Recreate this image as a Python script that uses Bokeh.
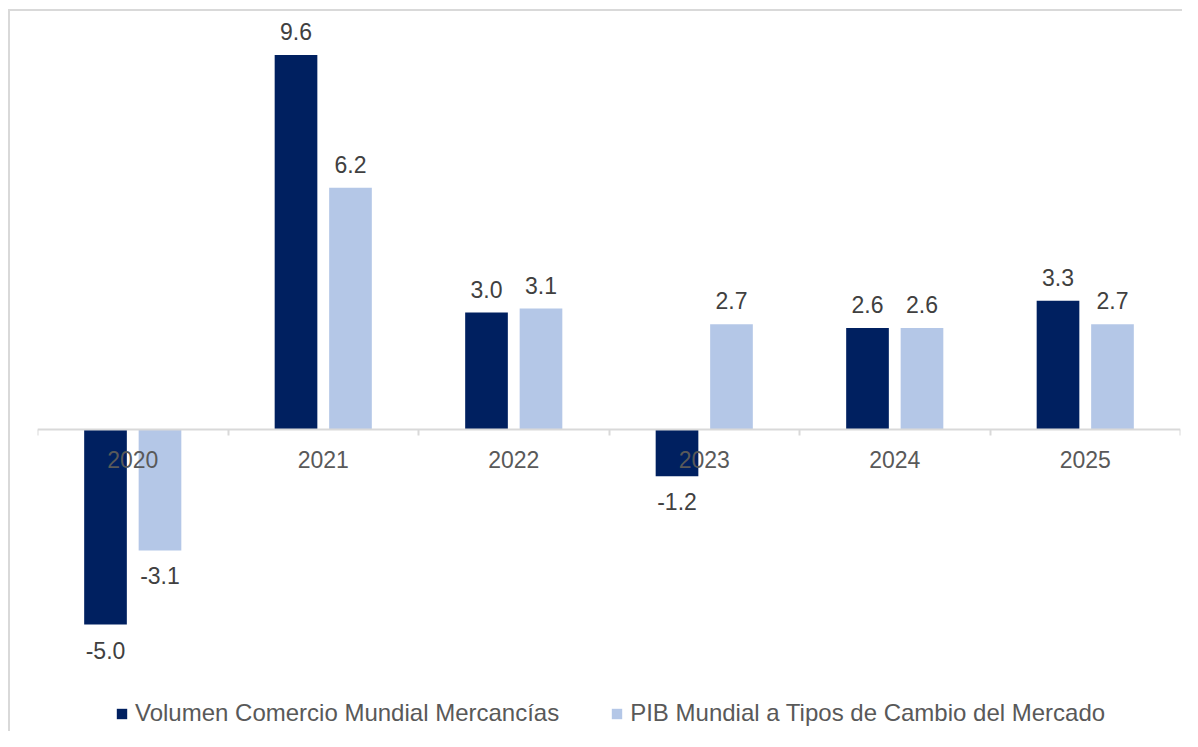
from bokeh.plotting import figure
from bokeh.models import (ColumnDataSource, FactorRange, Range1d, LinearAxis,
                          CategoricalAxis, FixedTicker, LabelSet)
from bokeh.core.properties import value
from bokeh.transform import dodge
from bokeh.embed import file_html
from bokeh.resources import INLINE

years = ["2020", "2021", "2022", "2023", "2024", "2025"]
volumen = [-5.0, 9.6, 3.0, -1.2, 2.6, 3.3]
pib = [-3.1, 6.2, 3.1, 2.7, 2.6, 2.7]
series_names = ["Volumen Comercio Mundial Mercancías",
                "PIB Mundial a Tipos de Cambio del Mercado"]

DARK = "#002060"
LIGHT = "#B4C7E7"
GRID = "#d9d9d9"
FONT = "Liberation Sans"

src = ColumnDataSource(dict(
    year=years, vol=volumen, pib=pib,
    vol_txt=[f"{v:.1f}" for v in volumen],
    pib_txt=[f"{v:.1f}" for v in pib],
    vol_off=[15 if v >= 0 else -34 for v in volumen],
    pib_off=[15 if v >= 0 else -34 for v in pib],
))

W, H = 1182, 731
TOP, ZERO, PX = 11, 429, 39.0
p = figure(width=W, height=H, output_backend="svg", toolbar_location=None,
           x_range=FactorRange(*years, range_padding=0),
           y_range=Range1d(-(H - ZERO) / PX, (ZERO - TOP) / PX),
           x_axis_location=None, y_axis_location=None,
           min_border_left=37, min_border_right=2,
           min_border_top=TOP, min_border_bottom=0,
           styles={"background-color": "white",
                   "background-image": f"linear-gradient({GRID},{GRID}), linear-gradient({GRID},{GRID})",
                   "background-size": "2px 100%, 100% 2px",
                   "background-position": "8px 9px, 8px 9px",
                   "background-repeat": "no-repeat"})
p.outline_line_color = None
p.xgrid.visible = False
p.ygrid.visible = False
p.background_fill_color = "white"
p.border_fill_color = None

OFF = 0.143
BW = 0.224
p.vbar(x=dodge("year", -OFF, range=p.x_range), top="vol", width=BW, source=src,
       fill_color=DARK, line_color=None, legend_label=series_names[0])
p.vbar(x=dodge("year", OFF, range=p.x_range), top="pib", width=BW, source=src,
       fill_color=LIGHT, line_color=None, legend_label=series_names[1])

lab_kw = dict(text_font=value(FONT), text_font_size="23px", text_color="#404040",
              text_align="center", text_baseline="alphabetic", source=src)
p.add_layout(LabelSet(x=dodge("year", -OFF, range=p.x_range), y="vol", text="vol_txt",
                      y_offset="vol_off", **lab_kw))
p.add_layout(LabelSet(x=dodge("year", OFF, range=p.x_range), y="pib", text="pib_txt",
                      y_offset="pib_off", **lab_kw))

# axis line with boundary ticks at y = 0
tick_axis = LinearAxis(ticker=FixedTicker(ticks=list(range(len(years) + 1))),
                       fixed_location=0,
                       axis_line_color=GRID, axis_line_width=2,
                       major_tick_line_color=GRID, major_tick_line_width=2,
                       major_tick_in=0, major_tick_out=6,
                       minor_tick_line_color=None,
                       major_label_text_color=None, major_label_text_font_size="1px")
p.add_layout(tick_axis, "below")

cat_axis = CategoricalAxis(fixed_location=0, axis_line_color=None,
                           major_tick_line_color=None, minor_tick_line_color=None,
                           major_label_text_font=FONT, major_label_text_font_size="23px",
                           major_label_text_color="#595959", major_label_standoff=15)
p.add_layout(cat_axis, "below")

leg = p.legend[0]
leg.orientation = "horizontal"
leg.location = (78, 4)
leg.padding = 0
leg.margin = 0
leg.spacing = 51
leg.glyph_width = 13
leg.glyph_height = 13
leg.label_standoff = 7
leg.label_text_font = FONT
leg.label_text_font_size = "24px"
leg.label_text_color = "#595959"
leg.background_fill_alpha = 0
leg.border_line_color = None

open("out.html", "w").write(file_html(p, INLINE))
